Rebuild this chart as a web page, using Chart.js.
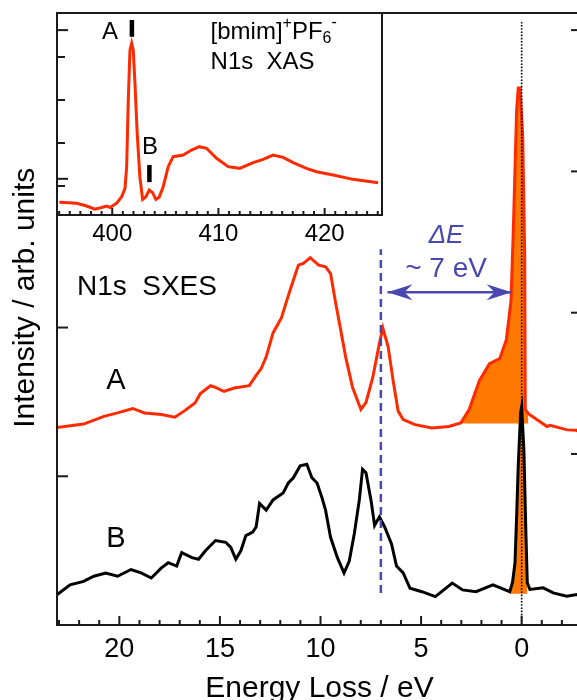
<!DOCTYPE html>
<html lang="en">
<head>
  <meta charset="UTF-8">
  <title>[bmim]PF6 N1s SXES / XAS</title>
  <style>
    html, body { margin: 0; padding: 0; background: #fff; overflow: hidden; }
    .wrap { position: relative; width: 577px; height: 700px; overflow: hidden; }
    #main { position: absolute; left: 0; top: 0; width: 585px; height: 704px; }
    #inset { position: absolute; left: 0; top: 0; width: 400px; height: 257px; }
  </style>
</head>
<body>
  <div class="wrap">
    <canvas id="main" width="585" height="704"></canvas>
    <canvas id="inset" width="400" height="257"></canvas>
  </div>

  <script src="https://cdn.jsdelivr.net/npm/chart.js"></script>
  <script>
    // SXES spectrum A (red), energy loss in eV / intensity in arb. units
    const lossA = [23.12, 21.78, 20.77, 20.09, 19.34, 18.75, 17.91, 17.24, 16.73, 16.23, 15.97, 15.47,
      15.22, 14.80, 14.29, 13.54, 13.20, 12.95, 12.70, 12.36, 11.94, 11.60, 11.35, 11.10, 10.85, 10.51,
      10.09, 9.75, 9.50, 9.25, 9.00, 8.75, 8.41, 7.99, 7.74, 7.40, 7.07, 6.90, 6.64, 6.39, 6.14, 5.89,
      5.30, 4.46, 3.62, 3.03, 2.61, 2.10, 1.60, 1.09, 0.76, 0.53, 0.42, 0.33, 0.25, 0.17, 0.08, -0.05,
      -0.15, -0.18, -0.33, -1.26, -1.41, -2.27, -2.73, -3.0];
    const intA = [1.328, 1.351, 1.403, 1.426, 1.456, 1.426, 1.415, 1.397, 1.443, 1.495, 1.557, 1.609,
      1.598, 1.570, 1.593, 1.609, 1.678, 1.724, 1.803, 1.964, 2.066, 2.215, 2.318, 2.420, 2.432, 2.470,
      2.420, 2.409, 2.363, 2.169, 1.986, 1.803, 1.598, 1.449, 1.495, 1.666, 1.895, 1.997, 1.872, 1.643,
      1.438, 1.381, 1.347, 1.324, 1.335, 1.358, 1.449, 1.643, 1.757, 1.792, 1.918, 2.18, 2.63, 3.07,
      3.46, 3.61, 3.61, 3.30, 2.50, 1.45, 1.421, 1.335, 1.343, 1.312, 1.309, 1.29];

    // SXES spectrum B (black)
    const lossB = [23.12, 22.45, 21.78, 21.27, 20.68, 20.09, 19.42, 18.92, 18.41, 17.91, 17.57, 17.15,
      16.90, 16.39, 16.06, 15.72, 15.22, 14.71, 14.46, 14.21, 13.96, 13.71, 13.37, 13.20, 13.03, 12.70,
      12.36, 11.86, 11.60, 11.35, 11.01, 10.68, 10.43, 10.17, 9.92, 9.75, 9.50, 9.16, 8.83, 8.57, 8.32,
      8.07, 7.91, 7.74, 7.48, 7.31, 7.07, 6.81, 6.47, 6.22, 5.89, 5.55, 4.96, 4.29, 3.45, 2.94, 2.27,
      1.43, 0.59, 0.45, 0.33, 0.25, 0.17, 0.05, 0.00, -0.11, -0.21, -0.28, -0.41, -1.07, -1.57, -2.24,
      -2.75, -3.0];
    const intB = [0.202, 0.270, 0.293, 0.328, 0.350, 0.328, 0.373, 0.350, 0.316, 0.384, 0.419, 0.396,
      0.487, 0.453, 0.442, 0.499, 0.568, 0.556, 0.522, 0.442, 0.499, 0.601, 0.624, 0.659, 0.818, 0.773,
      0.841, 0.887, 0.955, 0.990, 1.070, 1.081, 0.990, 0.955, 0.853, 0.773, 0.590, 0.453, 0.350, 0.430,
      0.613, 0.841, 1.047, 1.024, 0.830, 0.670, 0.727, 0.659, 0.545, 0.396, 0.350, 0.247, 0.224, 0.191,
      0.282, 0.236, 0.224, 0.270, 0.224, 0.29, 0.42, 0.73, 1.07, 1.43, 1.466, 1.18, 0.62, 0.284, 0.239,
      0.250, 0.216, 0.194, 0.205, 0.19];

    // inset: N1s XAS, photon energy in eV
    const xasEnergy = [395.02, 396.65, 397.59, 398.37, 399.0, 399.5, 399.79, 400.42, 400.89, 401.2,
      401.36, 401.51, 401.67, 401.83, 401.98, 402.14, 402.35, 402.6, 402.86, 403.17, 403.48, 403.8,
      404.11, 404.42, 404.8, 405.27, 405.74, 406.68, 407.47, 408.19, 408.88, 409.82, 410.91, 412.0,
      413.27, 414.21, 415.15, 416.09, 417.03, 418.29, 419.23, 420.8, 422.67, 425.03];
    const xasInt = [-0.38, -0.40, -0.465, -0.54, -0.50, -0.465, -0.50, -0.40, -0.248, -0.054,
      0.45, 2.0, 3.16, 3.32, 3.16, 2.39, 1.225, 0.217, -0.31, -0.25, -0.093, -0.155,
      -0.31, -0.263, -0.016, 0.45, 0.682, 0.72, 0.837, 0.915, 0.877, 0.644, 0.45, 0.411,
      0.543, 0.62, 0.72, 0.667, 0.543, 0.411, 0.333, 0.256, 0.155, 0.078];

    // tick positions
    const lossTicks = [0, 5, 10, 15, 20];
    const intTicksLeft = [1, 2, 3, 4];
    const intTicksRight = [1.15, 2.10, 3.05, 4.0];
    const xasTicks = [400, 410, 420];
    const xasTicksLeft = [0, 1, 2, 3];

    // markers
    const excitation = { A: 401.85, B: 403.5 };
    const gapLoss = 7;          // dashed line, ~7 eV
    const elasticLoss = 0;      // dotted line
    const baseA = 1.355, baseB = 0.21;   // orange areas sit on these

    const RED = '#ff2a00', ORANGE = '#ff7800', BLUE = '#4848b0';
    const FONT = '"Liberation Sans", Arial, sans-serif';
    Chart.defaults.font.family = FONT;

    const pts = (xs, ys) => xs.map((x, i) => ({ x, y: ys[i] }));
    const seriesA = pts(lossA, intA);
    const seriesB = pts(lossB, intB);
    const range = (a, b) => { const r = []; for (let v = a; v <= b; v++) r.push(v); return r; };

    function line(data, color, width, extra) {
      return Object.assign({ data, borderColor: color, borderWidth: width, pointRadius: 0, fill: false }, extra);
    }

    function tick(ctx, x1, y1, x2, y2) {
      ctx.beginPath(); ctx.moveTo(x1, y1); ctx.lineTo(x2, y2); ctx.stroke();
    }

    function text(ctx, s, x, y, font, color, align) {
      ctx.font = font; ctx.fillStyle = color || '#000';
      ctx.textAlign = align || 'center'; ctx.textBaseline = 'middle';
      ctx.fillText(s, x, y);
    }

    function arrowHead(ctx, tx, ty, dir) {
      // dir = +1 points right, -1 points left
      ctx.beginPath();
      ctx.moveTo(tx, ty);
      ctx.lineTo(tx - dir * 25, ty - 8);
      ctx.lineTo(tx - dir * 17, ty);
      ctx.lineTo(tx - dir * 25, ty + 8);
      ctx.closePath();
      ctx.fill();
    }

    const mainDecor = {
      id: 'mainDecor',
      afterDraw(chart) {
        const { ctx, chartArea: a, scales: { x, y } } = chart;
        ctx.save();
        ctx.strokeStyle = '#1a1a1a'; ctx.lineWidth = 2;
        ctx.strokeRect(a.left, a.top, a.right - a.left, a.bottom - a.top);
        range(-3, 23).forEach(v => {
          const p = x.getPixelForValue(v);
          const len = lossTicks.includes(v) ? 9 : 5;
          tick(ctx, p, a.bottom, p, a.bottom - len);
        });
        intTicksLeft.forEach(v => { const p = y.getPixelForValue(v); tick(ctx, a.left, p, a.left + 11, p); });
        intTicksRight.forEach(v => { const p = y.getPixelForValue(v); tick(ctx, a.right, p, a.right - 11, p); });

        // arrow heads for the ~7 eV gap
        ctx.fillStyle = BLUE;
        const ay = y.getPixelForValue(2.237);
        arrowHead(ctx, x.getPixelForValue(6.67), ay, -1);
        arrowHead(ctx, x.getPixelForValue(0.5), ay, 1);

        text(ctx, 'N1s  SXES', x.getPixelForValue(22.11), y.getPixelForValue(2.27), `28px ${FONT}`, '#000', 'left');
        text(ctx, 'A', x.getPixelForValue(20.17), y.getPixelForValue(1.643), `29px ${FONT}`);
        text(ctx, 'B', x.getPixelForValue(20.17), y.getPixelForValue(0.58), `29px ${FONT}`);
        text(ctx, 'ΔE', x.getPixelForValue(3.76), y.getPixelForValue(2.615), `italic 26px ${FONT}`, BLUE);
        text(ctx, '~ 7 eV', x.getPixelForValue(3.76), y.getPixelForValue(2.392), `28px ${FONT}`, BLUE);

        // y axis title
        ctx.translate(a.left - 31, y.getPixelForValue(2.2));
        ctx.rotate(-Math.PI / 2);
        text(ctx, 'Intensity / arb. units', 0, 0, `30px ${FONT}`);
        ctx.restore();
      }
    };

    new Chart(document.getElementById('main'), {
      type: 'line',
      data: {
        datasets: [
          line(seriesA.filter(p => p.x <= 3.1 && p.x >= -0.35), 'transparent', 0,
               { backgroundColor: ORANGE, fill: { value: baseA }, order: 6 }),
          line(seriesB.filter(p => p.x <= 0.6 && p.x >= -0.3), 'transparent', 0,
               { backgroundColor: ORANGE, fill: { value: baseB }, order: 5 }),
          line(seriesA, RED, 3, { order: 4 }),
          line(seriesB, '#000', 3, { order: 3 }),
          line([{ x: gapLoss, y: 0.216 }, { x: gapLoss, y: 2.527 }], BLUE, 2.5, { borderDash: [8, 5], order: 2 }),
          line([{ x: 6.67, y: 2.237 }, { x: 0.5, y: 2.237 }], BLUE, 2.5, { order: 2 }),
          line([{ x: elasticLoss, y: 0 }, { x: elasticLoss, y: 4.054 }], '#000', 1.6, { borderDash: [1.6, 1.6], order: 1 })
        ]
      },
      options: {
        responsive: false,
        animation: false,
        events: [],
        elements: { line: { tension: 0 } },
        layout: { padding: { left: 57, right: 3, top: 13, bottom: 0 } },
        plugins: { legend: { display: false }, tooltip: { enabled: false } },
        scales: {
          x: {
            type: 'linear', reverse: true, min: -3.0, max: 23.1,
            grid: { display: false, drawTicks: false }, border: { display: false },
            afterBuildTicks: s => { s.ticks = lossTicks.map(v => ({ value: v })); },
            ticks: { padding: 11, color: '#000', font: { size: 27, lineHeight: 1 } },
            title: { display: true, text: 'Energy Loss / eV', color: '#000',
                     font: { size: 30, lineHeight: 1 }, padding: { top: 0, bottom: 0 } }
          },
          y: { display: false, min: 0, max: 4.115 }
        }
      },
      plugins: [mainDecor]
    });

    const insetDecor = {
      id: 'insetDecor',
      afterDraw(chart) {
        const { ctx, chartArea: a, scales: { x, y } } = chart;
        ctx.save();
        ctx.strokeStyle = '#1a1a1a'; ctx.lineWidth = 2;
        ctx.strokeRect(a.left, a.top, a.right - a.left, a.bottom - a.top);
        range(395, 425).forEach(v => {
          const p = x.getPixelForValue(v);
          const len = xasTicks.includes(v) ? 7 : 4;
          tick(ctx, p, a.bottom, p, a.bottom - len);
        });
        xasTicksLeft.forEach(v => { const p = y.getPixelForValue(v); tick(ctx, a.left, p, a.left + 8, p); });

        text(ctx, 'A', x.getPixelForValue(399.79), y.getPixelForValue(3.58), `24px ${FONT}`);
        text(ctx, 'B', x.getPixelForValue(403.55), y.getPixelForValue(0.91), `24px ${FONT}`);

        // [bmim]+PF6-
        let tx = x.getPixelForValue(409.26);
        const ty = y.getPixelForValue(3.58);
        const big = `24px ${FONT}`, small = `16px ${FONT}`;
        const put = (s, font, dy) => {
          text(ctx, s, tx, ty + dy, font, '#000', 'left');
          tx += ctx.measureText(s).width;
        };
        put('[bmim]', big, 0);
        put('+', small, -8);
        put('PF', big, 0);
        const sub = tx;
        put('6', small, 7);
        tx = sub + ctx.measureText('6').width;
        put('-', small, -9);
        text(ctx, 'N1s  XAS', x.getPixelForValue(409.26), y.getPixelForValue(2.884), big, '#000', 'left');
        ctx.restore();
      }
    };

    new Chart(document.getElementById('inset'), {
      type: 'line',
      data: {
        datasets: [
          line(pts(xasEnergy, xasInt), RED, 3),
          line([{ x: excitation.A, y: 3.47 }, { x: excitation.A, y: 3.86 }], '#000', 4.5),
          line([{ x: excitation.B, y: 0.09 }, { x: excitation.B, y: 0.49 }], '#000', 4.5)
        ]
      },
      options: {
        responsive: false,
        animation: false,
        events: [],
        elements: { line: { tension: 0 } },
        layout: { padding: { left: 57, right: 18, top: 13, bottom: 4 } },
        plugins: { legend: { display: false }, tooltip: { enabled: false } },
        scales: {
          x: {
            type: 'linear', min: 394.8, max: 425.4,
            grid: { display: false, drawTicks: false }, border: { display: false },
            afterBuildTicks: s => { s.ticks = xasTicks.map(v => ({ value: v })); },
            ticks: { padding: 7, color: '#000', font: { size: 24, lineHeight: 1 } }
          },
          y: { display: false, min: -0.674, max: 4.023 }
        }
      },
      plugins: [insetDecor]
    });
  </script>
</body>
</html>
